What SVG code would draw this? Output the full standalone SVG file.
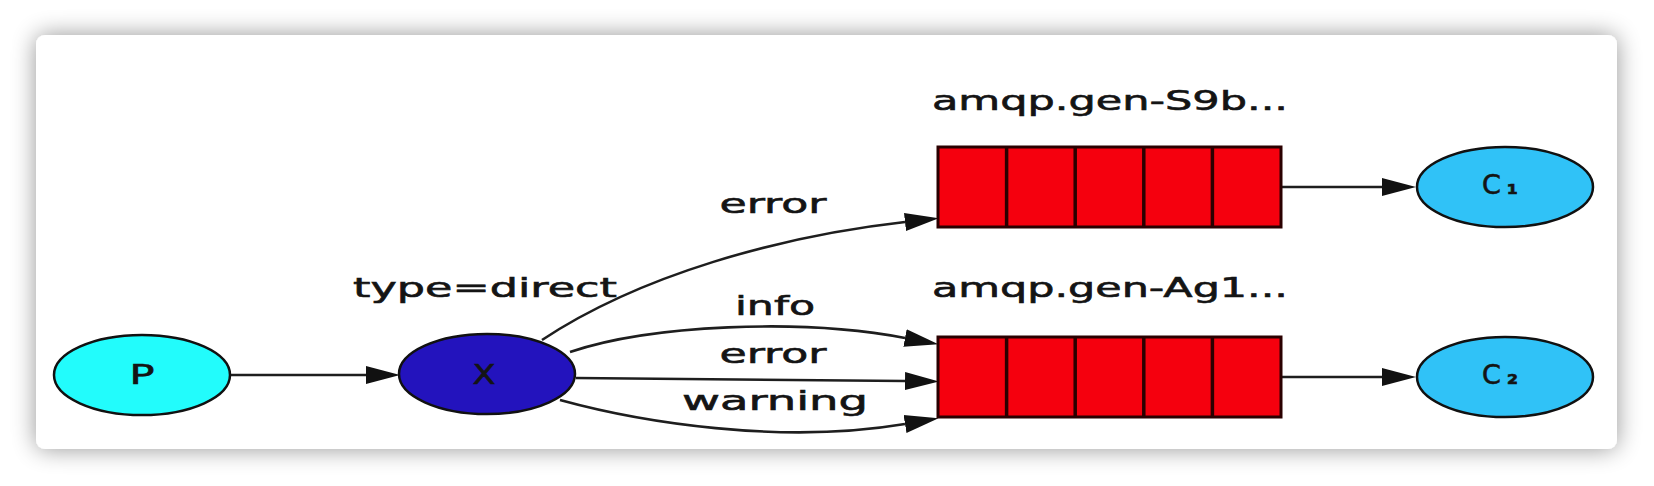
<svg xmlns="http://www.w3.org/2000/svg" width="1654" height="486" viewBox="0 0 1654 486">
  <style>
    .lbl { font-family: "DejaVu Sans", "Liberation Sans", sans-serif; font-size: 27px; fill: #141414; stroke: #141414; stroke-width: 0.6; }
    .node { stroke: #111; stroke-width: 2.5; }
    .q { fill: #f5000e; stroke: #2a0000; stroke-width: 3; }
    .div { stroke: #2a0000; stroke-width: 3.5; }
    .edge { fill: none; stroke: #1e1e1e; stroke-width: 2.6; }
  </style>
  <defs>
    <filter id="shadow" x="-5%" y="-20%" width="110%" height="140%">
      <feGaussianBlur in="SourceAlpha" stdDeviation="12"/>
      <feComponentTransfer><feFuncA type="linear" slope="0.42"/></feComponentTransfer>
      <feMerge><feMergeNode/><feMergeNode in="SourceGraphic"/></feMerge>
    </filter>
    <marker id="arrow" markerUnits="userSpaceOnUse" markerWidth="40" markerHeight="22" viewBox="0 -11 40 22" refX="0" refY="0" orient="auto">
      <path d="M0,-9 L34,0 L0,9 z" fill="#111"/>
    </marker>
  </defs>
  <rect width="1654" height="486" fill="#ffffff"/>
  <rect id="card" x="36" y="35" width="1581" height="414" rx="9" fill="#ffffff" filter="url(#shadow)"/>

  <g id="connectors">
    <path class="edge" d="M230,375 L366,375" marker-end="url(#arrow)"/>
    <path class="edge" d="M542,340 C640,275 780,236 905,222" marker-end="url(#arrow)"/>
    <path class="edge" d="M570,352 C650,325 800,318 905,338" marker-end="url(#arrow)"/>
    <path class="edge" d="M576,378 C700,379 820,380 905,381" marker-end="url(#arrow)"/>
    <path class="edge" d="M560,400 C640,422 780,445 905,424" marker-end="url(#arrow)"/>
    <path class="edge" d="M1281,187 L1382,187" marker-end="url(#arrow)"/>
    <path class="edge" d="M1281,377 L1382,377" marker-end="url(#arrow)"/>
    <text class="lbl" x="773" y="213" text-anchor="middle" textLength="107" lengthAdjust="spacingAndGlyphs">error</text>
    <text class="lbl" x="775" y="315" text-anchor="middle" textLength="80" lengthAdjust="spacingAndGlyphs">info</text>
    <text class="lbl" x="773" y="363" text-anchor="middle" textLength="107" lengthAdjust="spacingAndGlyphs">error</text>
    <text class="lbl" x="775" y="410" text-anchor="middle" textLength="186" lengthAdjust="spacingAndGlyphs">warning</text>
  </g>

  <g id="P">
    <ellipse class="node" cx="142" cy="375" rx="88" ry="40" fill="#22fcfc"/>
    <text class="lbl" x="142" y="384" text-anchor="middle" textLength="25" lengthAdjust="spacingAndGlyphs">P</text>
  </g>

  <g id="X">
    <ellipse class="node" cx="487" cy="374" rx="88" ry="40" fill="#2313bd"/>
    <text class="lbl" x="484" y="384" text-anchor="middle" textLength="23" lengthAdjust="spacingAndGlyphs">X</text>
    <text class="lbl" x="353" y="297" textLength="264" lengthAdjust="spacingAndGlyphs" font-size="28">type=direct</text>
  </g>

  <g id="Q1">
    <text class="lbl" x="932" y="110" textLength="356" lengthAdjust="spacingAndGlyphs">amqp.gen-S9b...</text>
    <rect class="q" x="938" y="147" width="343" height="80"/>
    <line class="div" x1="1006.6" y1="147" x2="1006.6" y2="227"/>
    <line class="div" x1="1075.2" y1="147" x2="1075.2" y2="227"/>
    <line class="div" x1="1143.8" y1="147" x2="1143.8" y2="227"/>
    <line class="div" x1="1212.4" y1="147" x2="1212.4" y2="227"/>
  </g>

  <g id="Q2">
    <text class="lbl" x="932" y="297" textLength="356" lengthAdjust="spacingAndGlyphs">amqp.gen-Ag1...</text>
    <rect class="q" x="938" y="337" width="343" height="80"/>
    <line class="div" x1="1006.6" y1="337" x2="1006.6" y2="417"/>
    <line class="div" x1="1075.2" y1="337" x2="1075.2" y2="417"/>
    <line class="div" x1="1143.8" y1="337" x2="1143.8" y2="417"/>
    <line class="div" x1="1212.4" y1="337" x2="1212.4" y2="417"/>
  </g>

  <g id="C1">
    <ellipse class="node" cx="1505" cy="187" rx="88" ry="40" fill="#30c2f7"/>
    <text class="lbl" x="1482" y="194" font-size="28">C<tspan font-weight="bold" font-size="26" dx="6">₁</tspan></text>
  </g>

  <g id="C2">
    <ellipse class="node" cx="1505" cy="377" rx="88" ry="40" fill="#30c2f7"/>
    <text class="lbl" x="1482" y="384" font-size="28">C<tspan font-weight="bold" font-size="26" dx="6">₂</tspan></text>
  </g>
</svg>
